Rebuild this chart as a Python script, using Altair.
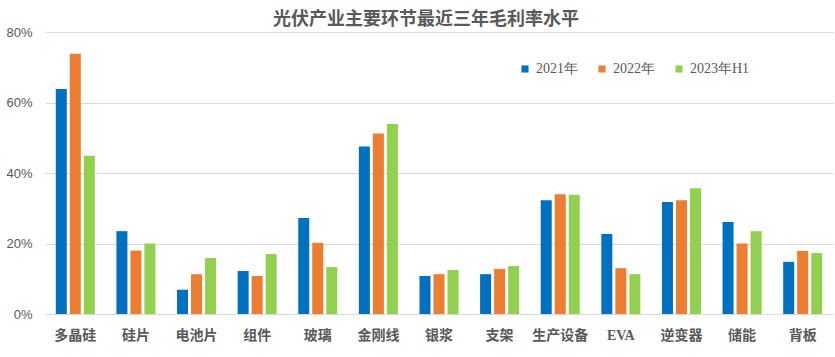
import altair as alt
import pandas as pd

categories = ["多晶硅", "硅片", "电池片", "组件", "玻璃", "金刚线", "银浆", "支架", "生产设备", "EVA", "逆变器", "储能", "背板"]
series = ["2021年", "2022年", "2023年H1"]
v2021 = [63.8, 23.5, 6.9, 12.2, 27.2, 47.5, 10.8, 11.3, 32.3, 22.7, 31.8, 26.1, 14.8]
v2022 = [73.8, 18.0, 11.3, 10.8, 20.2, 51.2, 11.3, 12.8, 34.0, 13.0, 32.3, 20.0, 17.9]
v2023 = [44.9, 20.0, 15.9, 17.0, 13.3, 53.9, 12.5, 13.6, 33.8, 11.3, 35.7, 23.5, 17.3]
colors = ["#0070C0", "#ED7D31", "#92D050"]

rows = []
for s, vals in zip(series, [v2021, v2022, v2023]):
    for c, v in zip(categories, vals):
        rows.append({"cat": c, "series": s, "value": v / 100})
df = pd.DataFrame(rows)

chart = alt.Chart(df).mark_bar().encode(
    x=alt.X("cat:N", sort=categories, title=None,
            scale=alt.Scale(paddingInner=0.356, paddingOuter=0.178),
            axis=alt.Axis(labelAngle=0, ticks=False, domainColor="#D9D9D9",
                          labelColor="#595959", labelFontSize=14, labelFontWeight="bold",
                          labelFont={"condition": {"test": "datum.value == 'EVA'", "value": "Liberation Serif"},
                                     "value": "Noto Sans CJK SC"},
                          labelPadding=14)),
    xOffset=alt.XOffset("series:N", sort=series,
                        scale=alt.Scale(paddingInner=0.214, paddingOuter=0)),
    y=alt.Y("value:Q", title=None,
            scale=alt.Scale(domain=[0, 0.8], nice=False),
            axis=alt.Axis(values=[0, 0.2, 0.4, 0.6, 0.8], format=".0%", domain=False, ticks=False,
                          gridColor="#D9D9D9", labelColor="#595959", labelFontSize=13,
                          labelFont="Liberation Sans", labelPadding=13)),
    color=alt.Color("series:N", sort=series,
                    scale=alt.Scale(domain=series, range=colors),
                    legend=alt.Legend(title=None, orient="none", direction="horizontal",
                                      legendX=473, legendY=30, symbolType="square",
                                      symbolSize=50, labelFont="Liberation Serif",
                                      labelFontSize=14, labelColor="#595959",
                                      columnPadding=17, labelOffset=4)),
).properties(
    width=788, height=282,
    title=alt.TitleParams("光伏产业主要环节最近三年毛利率水平", font="Noto Sans CJK SC",
                          fontSize=18, fontWeight="bold", color="#595959",
                          anchor="middle", dx=-13, offset=-3),
    autosize=alt.AutoSizeParams(type="none"),
    padding={"left": 45, "top": 32, "right": 2, "bottom": 43},
).configure_view(stroke=None)

chart.save("out.html", embed_options={"renderer": "svg", "actions": False})
